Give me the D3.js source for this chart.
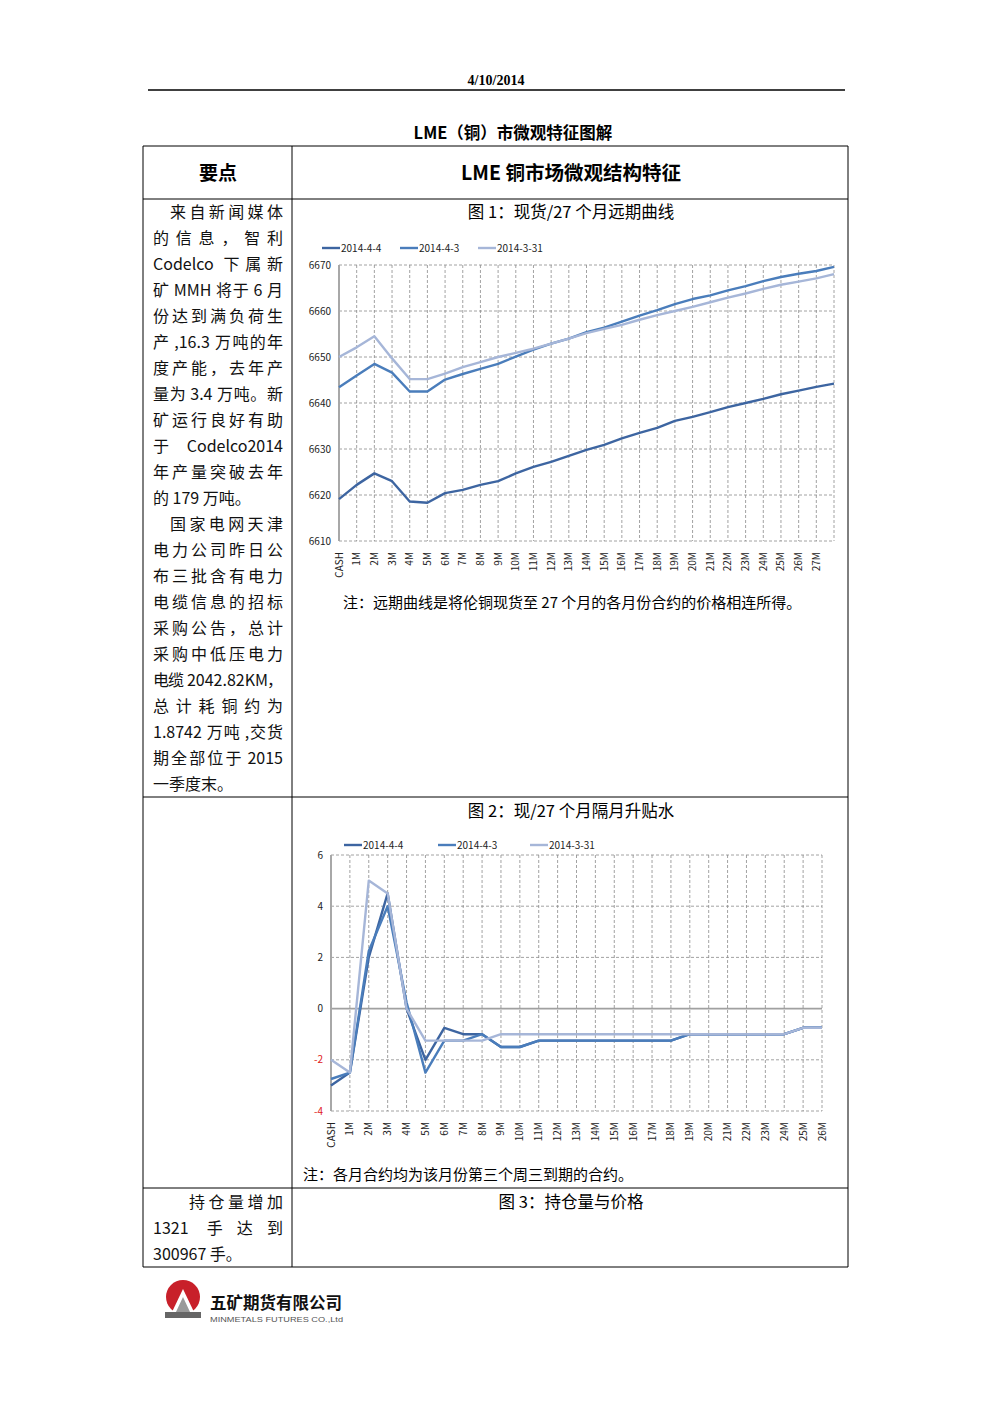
<!DOCTYPE html>
<html lang="zh">
<head>
<meta charset="UTF-8">
<title>LME（铜）市微观特征图解</title>
<script src="https://cdn.jsdelivr.net/npm/d3@7"></script>
<style>
  body { margin: 0; background: #fff; }
  svg text { font-family: "Noto Sans CJK SC", "Noto Sans", sans-serif; }
</style>
</head>
<body>
<script>
// chart 1: forward curve, cash to 27 months (last point has no label)
const curveCats = ["CASH","1M","2M","3M","4M","5M","6M","7M","8M","9M","10M","11M","12M","13M","14M",
  "15M","16M","17M","18M","19M","20M","21M","22M","23M","24M","25M","26M","27M",""];
const curve0404 = [6619.1,6622.2,6624.7,6623.0,6618.6,6618.3,6620.4,6621.1,6622.2,6623.0,6624.7,6626.1,6627.2,6628.5,6629.8,
  6630.9,6632.3,6633.5,6634.6,6636.1,6637.0,6638.0,6639.1,6640.0,6640.9,6641.9,6642.7,6643.5,6644.2];
const curve0403 = [6643.4,6646.0,6648.5,6646.6,6642.5,6642.5,6645.1,6646.3,6647.4,6648.5,6650.1,6651.6,6652.9,6654.0,6655.4,
  6656.4,6657.7,6659.0,6660.2,6661.5,6662.6,6663.4,6664.5,6665.4,6666.5,6667.4,6668.1,6668.7,6669.6];
const curve0331 = [6650.0,6652.1,6654.5,6649.7,6645.2,6645.2,6646.4,6647.8,6648.9,6650.0,6650.9,6651.8,6652.9,6654.0,6655.2,
  6656.1,6657.0,6658.1,6659.1,6660.0,6660.9,6661.9,6662.9,6663.8,6664.8,6665.7,6666.4,6667.1,6668.0];
const curveTicks = [6610,6620,6630,6640,6650,6660,6670];

// chart 2: month-to-month spreads
const spreadCats = ["CASH","1M","2M","3M","4M","5M","6M","7M","8M","9M","10M","11M","12M","13M",
  "14M","15M","16M","17M","18M","19M","20M","21M","22M","23M","24M","25M","26M"];
const spread0404 = [-3,-2.5,2,4.5,0,-2,-0.75,-1,-1,-1.5,-1.5,-1.25,-1.25,-1.25,
  -1.25,-1.25,-1.25,-1.25,-1.25,-1,-1,-1,-1,-1,-1,-0.75,-0.75];
const spread0403 = [-2.75,-2.5,2.25,4,0.25,-2.5,-1.25,-1.25,-1,-1.5,-1.5,-1.25,-1.25,-1.25,
  -1.25,-1.25,-1.25,-1.25,-1.25,-1,-1,-1,-1,-1,-1,-0.75,-0.75];
const spread0331 = [-2,-2.5,5,4.5,0,-1.25,-1.25,-1.25,-1.25,-1,-1,-1,-1,-1,
  -1,-1,-1,-1,-1,-1,-1,-1,-1,-1,-1,-0.75,-0.75];
const spreadTicks = [-4,-2,0,2,4,6];

const seriesNames = ["2014-4-4","2014-4-3","2014-3-31"];
const seriesColors = ["#3d65a1","#4a7dbb","#a6b6d8"];

const W = 992, H = 1403;
const svg = d3.select("body").append("svg").attr("width", W).attr("height", H);

// page header
svg.append("text").attr("x", 496).attr("y", 85).attr("text-anchor", "middle")
  .style("font-family", "'Liberation Serif', serif").style("font-weight", "bold").style("font-size", "14px")
  .text("4/10/2014");
svg.append("line").attr("x1", 148).attr("x2", 845).attr("y1", 90).attr("y2", 90)
  .attr("stroke", "#000").attr("stroke-width", 1.6);
svg.append("text").attr("x", 513).attr("y", 139).attr("text-anchor", "middle")
  .style("font-weight", "bold").style("font-size", "16.5px").text("LME（铜）市微观特征图解");

// table grid
const tl = 143, tr = 848, tc = 292;
const rows = [146, 199, 797, 1188, 1267];
const grid = svg.append("g").attr("stroke", "#000").attr("stroke-width", 1);
rows.forEach(y => grid.append("line").attr("x1", tl).attr("x2", tr).attr("y1", y).attr("y2", y));
[tl, tc, tr].forEach(x => grid.append("line").attr("x1", x).attr("x2", x).attr("y1", rows[0]).attr("y2", rows[4]));

svg.append("text").attr("x", 218).attr("y", 180).attr("text-anchor", "middle")
  .style("font-weight", "bold").style("font-size", "19px").text("要点");
svg.append("text").attr("x", 571).attr("y", 180).attr("text-anchor", "middle")
  .style("font-weight", "bold").style("font-size", "19.5px").text("LME 铜市场微观结构特征");

// left column text: justify by spreading whole tokens (CJK chars, latin words);
// a typed space keeps a small extra gap in front of the next token
const colRight = 283, spaceW = 4;
function justifyLine(txt, x0, y) {
  const parts = [];
  const re = /(\s*)([A-Za-z0-9.,]+|[^\sA-Za-z0-9.,])/g;
  let m;
  while ((m = re.exec(txt)) !== null) parts.push({ sp: m[1].length > 0, t: m[2] });
  const g = svg.append("g");
  const nodes = parts.map(p => g.append("text").attr("y", y).style("font-size", "16px")
    .attr("fill", "#111").text(p.t));
  const widths = nodes.map(n => n.node().getComputedTextLength());
  const extra = d3.sum(parts, p => p.sp ? spaceW : 0);
  const gap = (colRight - x0 - d3.sum(widths) - extra) / Math.max(1, parts.length - 1);
  let x = x0;
  nodes.forEach((n, i) => {
    if (i > 0 && parts[i].sp) x += spaceW;
    n.attr("x", x);
    x += widths[i] + gap;
  });
}
function paragraph(lines, y0) {
  lines.forEach((ln, i) => {
    const [txt, mode, indent] = ln;
    const y = y0 + i * 26;
    if (mode === "last") {
      svg.append("text").attr("x", 153).attr("y", y).style("font-size", "16px")
        .attr("fill", "#111").text(txt);
    } else {
      justifyLine(txt, mode === "indent" ? (indent || 170) : 153, y);
    }
  });
}
paragraph([
  ["来自新闻媒体", "indent"], ["的信息，智利"], ["Codelco 下属新"], ["矿 MMH 将于 6 月"],
  ["份达到满负荷生"], ["产 ,16.3 万吨的年"], ["度产能，去年产"], ["量为 3.4 万吨。新"],
  ["矿运行良好有助"], ["于 Codelco2014"], ["年产量突破去年"], ["的 179 万吨。", "last"],
  ["国家电网天津", "indent"], ["电力公司昨日公"], ["布三批含有电力"], ["电缆信息的招标"],
  ["采购公告，总计"], ["采购中低压电力"], ["电缆 2042.82KM，"], ["总计耗铜约为"],
  ["1.8742 万吨 ,交货"], ["期全部位于 2015"], ["一季度末。", "last"]
], 218);
paragraph([["持仓量增加", "indent", 189], ["1321 手达到"], ["300967 手。", "last"]], 1208);

// chart titles and notes
const title = (y, s) => svg.append("text").attr("x", 571).attr("y", y).attr("text-anchor", "middle")
  .style("font-size", "16.5px").text(s);
title(218, "图 1：现货/27 个月远期曲线");
title(817, "图 2：现/27 个月隔月升贴水");
title(1208, "图 3：持仓量与价格");
svg.append("text").attr("x", 343).attr("y", 608).style("font-size", "15px")
  .text("注：远期曲线是将伦铜现货至 27 个月的各月份合约的价格相连所得。");
svg.append("text").attr("x", 303).attr("y", 1180).style("font-size", "15px")
  .text("注：各月合约均为该月份第三个周三到期的合约。");

// generic line chart
function lineChart(cfg) {
  const g = svg.append("g");
  const x = d3.scalePoint().domain(d3.range(cfg.cats.length)).range([cfg.x0, cfg.x1]);
  const y = d3.scaleLinear().domain(d3.extent(cfg.ticks)).range([cfg.y1, cfg.y0]);

  // horizontal gridlines
  g.append("g").selectAll("line").data(cfg.ticks).join("line")
    .attr("x1", cfg.x0).attr("x2", cfg.x1).attr("y1", d => y(d)).attr("y2", d => y(d))
    .attr("stroke", d => d === cfg.solidAt ? "#a0a0a0" : "#8a8a8a")
    .attr("stroke-width", d => d === cfg.solidAt ? 1.6 : 0.8)
    .attr("stroke-dasharray", d => d === cfg.solidAt ? null : "3,2");
  // vertical gridlines
  g.append("g").selectAll("line").data(d3.range(1, cfg.cats.length)).join("line")
    .attr("x1", d => x(d)).attr("x2", d => x(d)).attr("y1", cfg.y0).attr("y2", cfg.y1)
    .attr("stroke", "#8a8a8a").attr("stroke-width", 0.8).attr("stroke-dasharray", "3,2");
  // left axis line
  g.append("line").attr("x1", cfg.x0).attr("x2", cfg.x0).attr("y1", cfg.y0).attr("y2", cfg.y1)
    .attr("stroke", "#a8a8a8").attr("stroke-width", 2);

  // y labels
  g.append("g").selectAll("text").data(cfg.ticks).join("text")
    .attr("x", cfg.x0 - 8).attr("y", d => y(d) + 3.5).attr("text-anchor", "end")
    .style("font-size", "10px").attr("fill", d => d < 0 ? "#e02020" : "#222")
    .text(d => d);
  // x labels (rotated)
  g.append("g").selectAll("text").data(cfg.cats).join("text")
    .attr("transform", (d, i) => `translate(${x(i) + 3.5},${cfg.y1 + 11}) rotate(-90)`)
    .attr("text-anchor", "end").style("font-size", "10px").attr("fill", "#222")
    .text(d => d);

  // lines; lighter series drawn last so it stays visible where lines meet
  const line = d3.line().x((d, i) => x(i)).y(d => y(d));
  cfg.series.forEach((s, k) => {
    g.append("path").datum(s).attr("d", line).attr("fill", "none")
      .attr("stroke", seriesColors[k]).attr("stroke-width", 2.4).attr("stroke-linejoin", "round");
  });

  // legend
  seriesNames.forEach((n, k) => {
    const lx = cfg.legendX[k];
    g.append("line").attr("x1", lx).attr("x2", lx + 18).attr("y1", cfg.legendY).attr("y2", cfg.legendY)
      .attr("stroke", seriesColors[k]).attr("stroke-width", 2.4);
    g.append("text").attr("x", lx + 19).attr("y", cfg.legendY + 3.5)
      .style("font-size", "10px").attr("fill", "#222").text(n);
  });
}

lineChart({
  cats: curveCats, ticks: curveTicks, x0: 339, x1: 834, y0: 265, y1: 541,
  series: [curve0404, curve0403, curve0331], legendX: [322, 400, 478], legendY: 248
});
lineChart({
  cats: spreadCats, ticks: spreadTicks, x0: 331, x1: 822, y0: 855, y1: 1111, solidAt: 0,
  series: [spread0404, spread0403, spread0331], legendX: [344, 438, 530], legendY: 845
});

// company logo
const logo = svg.append("g");
logo.append("circle").attr("cx", 183).attr("cy", 1297).attr("r", 17).attr("fill", "#c8202a");
logo.append("path").attr("d", "M172,1312 L183,1289 L194,1312 Z").attr("fill", "#fff");
logo.append("path").attr("d", "M176,1312 L183,1297 L190,1312 Z").attr("fill", "#9a9a9a");
logo.append("rect").attr("x", 165).attr("y", 1312).attr("width", 36).attr("height", 6).attr("fill", "#666");
logo.append("text").attr("x", 210).attr("y", 1309).style("font-size", "16.5px").style("font-weight", "bold")
  .attr("fill", "#111").text("五矿期货有限公司");
logo.append("text").attr("x", 210).attr("y", 1321.5).style("font-size", "8px").attr("fill", "#555")
  .attr("textLength", 133).attr("lengthAdjust", "spacingAndGlyphs")
  .style("font-family", "'Liberation Sans Narrow', 'Liberation Sans', sans-serif")
  .text("MINMETALS FUTURES CO.,Ltd");
</script>
</body>
</html>
